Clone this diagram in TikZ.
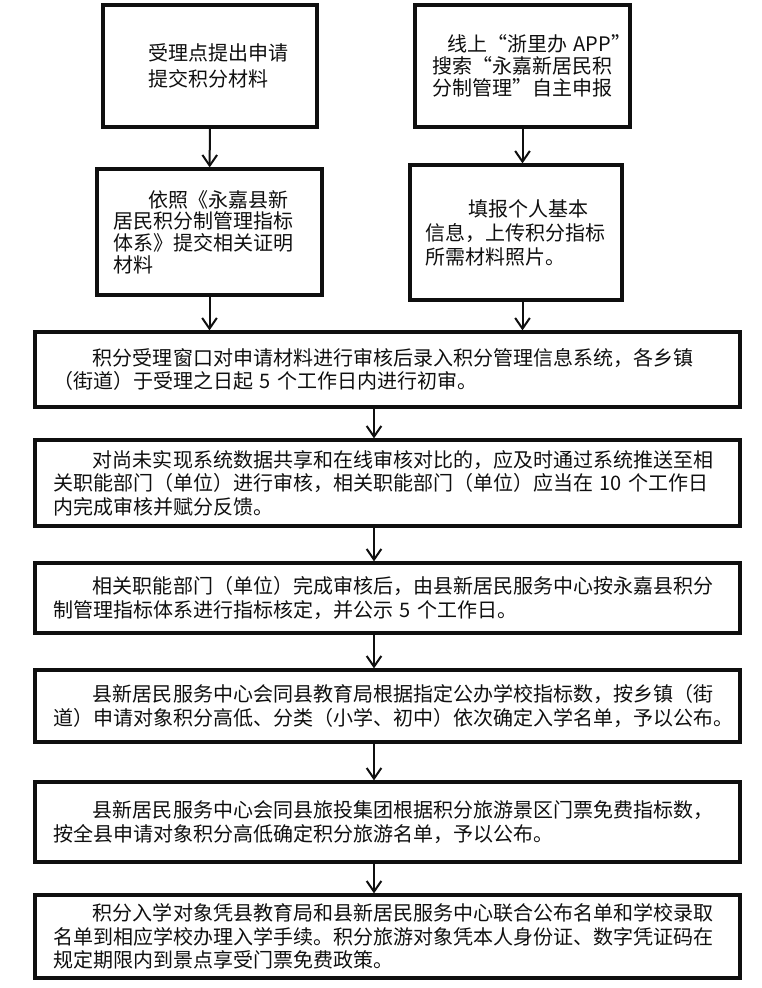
\documentclass[tikz,border=0pt]{standalone}
\usepackage{fontspec}
\usepackage{tikz}
\usetikzlibrary{arrows.meta,calc,positioning}
\newfontfamily\cjkfont{Noto Sans CJK SC}
\definecolor{flowink}{RGB}{15,15,15}

\begin{document}
\begin{tikzpicture}[x=0.75pt,y=-0.75pt,
    box/.style={draw=flowink,text=flowink,line width=2.4pt,inner xsep=0pt,inner ysep=0pt,align=left,
      font=\cjkfont\fontsize{15pt}{16.3pt}\selectfont},
    rowbox/.style={box,minimum width=528.75pt,text width=528.75pt,
      font=\cjkfont\fontsize{15pt}{17.6pt}\selectfont},
    flow/.style={draw=flowink,-{Straight Barb[length=8pt,width=11pt]},line width=1.5pt}]
    \useasboundingbox (0,0) rectangle (762,988);
    \node[box,minimum width=160.5pt,text width=160.5pt,minimum height=91.5pt,
      font=\cjkfont\fontsize{15pt}{20pt}\selectfont] (accept) at (210,66)
      {\hspace*{33.75pt}受理点提出申请\\\hspace*{33.75pt}提交积分材料};
    \node[box,minimum width=161.25pt,text width=161.25pt,minimum height=91.5pt] (online) at (522.5,66)
      {\hspace*{24pt}\mbox{线上“浙里办~APP”}\\\hspace*{12.75pt}搜索“永嘉新居民积\\\hspace*{12.75pt}分制管理”自主申报};
    \node[box,minimum width=168.75pt,text width=168.75pt,minimum height=94.5pt] (submit) at (209.5,232)
      {\hspace*{38.25pt}依照《永嘉县新\\\hspace*{12pt}居民积分制管理指标\\\hspace*{12pt}体系》提交相关证明\\\hspace*{12pt}材料};
    \node[box,minimum width=159pt,text width=159pt,minimum height=101.25pt,
      font=\cjkfont\fontsize{15pt}{18pt}\selectfont] (upload) at (516,232.5)
      {\hspace*{43.5pt}填报个人基本\\\hspace*{11.25pt}信息，上传积分指标\\\hspace*{11.25pt}所需材料照片。};
    \node[rowbox,minimum height=56.25pt] (review) at (387.5,369.5)
      {\hspace*{43.5pt}积分受理窗口对申请材料进行审核后录入积分管理信息系统，各乡镇\\
       \hspace*{13.5pt}（街道）于受理之日起 5 个工作日内进行初审。};
    \node[rowbox,minimum height=64.5pt] (verify) at (387.5,483)
      {\hspace*{43.5pt}对尚未实现系统数据共享和在线审核对比的，应及时通过系统推送至相\\
       \hspace*{13.5pt}关职能部门（单位）进行审核，相关职能部门（单位）应当在 10 个工作日\\
       \hspace*{13.5pt}内完成审核并赋分反馈。};
    \node[rowbox,minimum height=52.5pt] (publicize) at (387.5,598)
      {\hspace*{43.5pt}相关职能部门（单位）完成审核后，由县新居民服务中心按永嘉县积分\\
       \hspace*{13.5pt}制管理指标体系进行指标核定，并公示 5 个工作日。};
    \node[rowbox,minimum height=54pt] (school) at (387.5,706)
      {\hspace*{43.5pt}县新居民服务中心会同县教育局根据指定公办学校指标数，按乡镇（街\\
       \hspace*{13.5pt}道）申请对象积分高低、分类（小学、初中）依次确定入学名单，予以公布。};
    \node[rowbox,minimum height=60pt] (tour) at (387.5,822)
      {\hspace*{43.5pt}县新居民服务中心会同县旅投集团根据积分旅游景区门票免费指标数，\\
       \hspace*{13.5pt}按全县申请对象积分高低确定积分旅游名单，予以公布。};
    \node[rowbox,minimum height=62.25pt] (enroll) at (387.5,936.5)
      {\hspace*{43.5pt}积分入学对象凭县教育局和县新居民服务中心联合公布名单和学校录取\\
       \hspace*{13.5pt}名单到相应学校办理入学手续。积分旅游对象凭本人身份证、数字凭证码在\\
       \hspace*{13.5pt}规定期限内到景点享受门票免费政策。};
    \coordinate (spine) at (374,0);
    \draw[flow] (accept) -- (submit);
    \draw[flow] (online.south) -- (online.south |- upload.north);
    \draw[flow] (submit.south) -- (submit.south |- review.north);
    \draw[flow] (online.south |- upload.south) -- (online.south |- review.north);
    \foreach \a/\b in {review/verify,verify/publicize,publicize/school,school/tour,tour/enroll}
        \draw[flow] (\a.south -| spine) -- (\b.north -| spine);
\end{tikzpicture}
\end{document}
